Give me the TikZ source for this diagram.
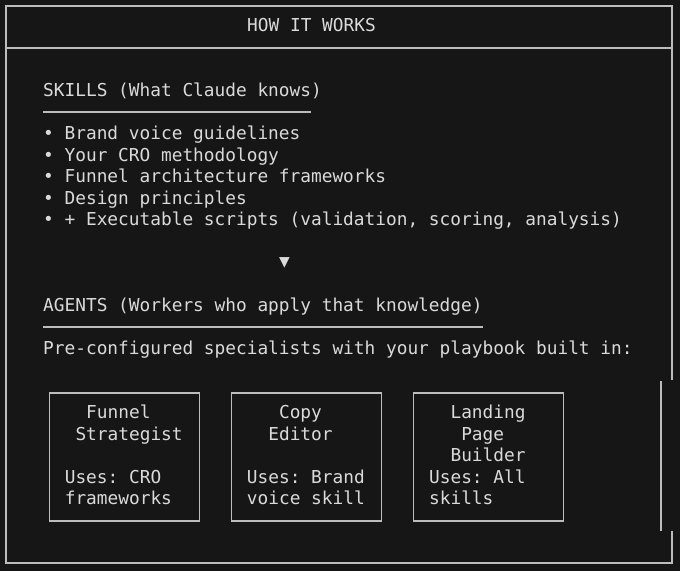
\documentclass[tikz,border=0pt]{standalone}
\usepackage{fontspec}
\setmonofont{DejaVu Sans Mono}
\usetikzlibrary{calc}
\definecolor{termbg}{HTML}{161616}
\definecolor{termfg}{HTML}{DADADA}
\definecolor{termline}{HTML}{BDBDBD}
\tikzset{
  term/.style={font=\ttfamily\fontsize{17.8}{21.4}\selectfont,text=termfg,inner sep=0pt,anchor=base west},
  rule/.style={draw=termline,line width=1.6pt},
  agentbox/.style={rule,minimum width=150pt,minimum height=128pt,inner sep=0pt,anchor=north west},
  agenttext/.style={term,align=left}
}

\begin{document}
\begin{tikzpicture}[x=1pt,y=-1pt]
    \fill[termbg] (0,0) rectangle (680,571);
    \useasboundingbox (0,0) rectangle (680,571); % keeps the margins

    % outer frame, with the broken right edge
    \draw[rule] (672,380) -- (672,6) -- (6,6) -- (6,563) -- (672,563) -- (672,531);
    \draw[rule] (661,381) -- (661,531);
    \draw[rule] (6,48) -- (672,48);

    \node[term] (title) at (247,31.5) {HOW IT WORKS};

    \node[term] (skills) at (43,96.5) {SKILLS (What Claude knows)};
    \draw[rule] (43,112) -- (311,112);

    \foreach \txt [count=\i] in {Brand voice guidelines,Your CRO methodology,Funnel architecture frameworks,Design principles,{+ Executable scripts (validation, scoring, analysis)}}{
        \node[term] (skill\i) at (43,{118+21.5*\i}) {• \txt};
    }

    \node[term,anchor=center] (arrow) at (284.5,263) {▼};

    \node[term] (agents) at (43,311.5) {AGENTS (Workers who apply that knowledge)};
    \draw[rule] (43,327) -- (483,327);
    \node[term] (preconf) at (43,354.5) {Pre-configured specialists with your playbook built in:};

    \foreach \bx/\nm in {48.5/funnel,230.6/copy,412.8/landing}{
        \node[agentbox] (\nm) at (\bx,392) {};
    }
    % base of a multi-line node is its last line
    \node[agenttext] (funneltxt) at ($(funnel.north west)+(16.1,112.5)$)
        {\hphantom{xx}Funnel\\\hphantom{x}Strategist\\[21.4pt]Uses: CRO\\frameworks};
    \node[agenttext] (copytxt) at ($(copy.north west)+(16.1,112.5)$)
        {\hphantom{xxx}Copy\\\hphantom{xx}Editor\\[21.4pt]Uses: Brand\\voice skill};
    \node[agenttext] (landingtxt) at ($(landing.north west)+(16.1,112.5)$)
        {\hphantom{xx}Landing\\\hphantom{xxx}Page\\\hphantom{xx}Builder\\Uses: All\\skills};
\end{tikzpicture}
\end{document}
